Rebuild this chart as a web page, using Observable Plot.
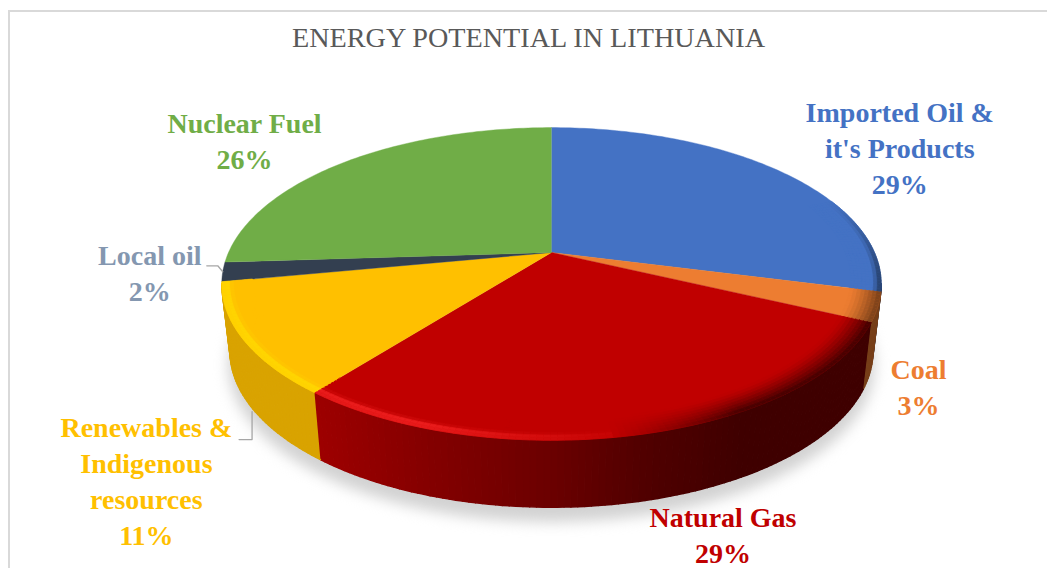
<!DOCTYPE html>
<html><head><meta charset="utf-8">
<script src="https://cdn.jsdelivr.net/npm/d3@7"></script>
<script src="https://cdn.jsdelivr.net/npm/@observablehq/plot@0.6"></script>
<style>
html,body{margin:0;padding:0;background:#fff;overflow:hidden}
#frame{position:absolute;left:8px;top:10px;width:1039px;height:558px;box-sizing:border-box;border:2px solid #d9d9d9;border-right:none;border-bottom:none}
#title{position:absolute;left:0;top:20px;width:1057px;text-align:center;font:28.2px "Liberation Serif",serif;color:#595959;line-height:36px}
#chart{position:absolute;left:0;top:0}
svg{display:block;background:transparent!important}
</style></head><body>
<div id="frame"></div>
<div id="title">ENERGY POTENTIAL IN LITHUANIA</div>
<div id="chart"></div>
<script>
const categories=["Imported Oil & it's Products","Coal","Natural Gas","Renewables & Indigenous resources","Local oil","Nuclear Fuel"];
const labelLines=["Imported Oil &\nit's Products","Coal","Natural Gas","Renewables &\nIndigenous\nresources","Local oil","Nuclear Fuel"];
const shares=[29,3,28.6,11.4,2,26];
const colors=["#4472c4","#ed7d31","#c00000","#ffc000","#333f50","#70ad47"];
const labelColors=["#4472c4","#ed7d31","#c00000","#ffc000","#8497b0","#70ad47"];
// label offsets in pixels from the outer rim point at each slice's mid angle
const labelDx=[121,41,79,-97,-73,-100];
const labelDy=[-24,78,100,140,0,-23];

const W=1047,H=568,cx=551,cy=252,R=323,V=150,k=0.201,depth=67,shrink=0.975;
const rad=d=>d*Math.PI/180;
// pie space: unit disc seen in perspective; z=0 top face, z=1 bottom face
function project(t,r=1,z=0){
  const u=r*Math.sin(t),v=r*Math.cos(t),w=1+k*v;
  return {x:u/w*(z?shrink:1),y:-v/w+z*depth/V};
}
const total=d3.sum(shares);
let acc=0;
const slices=shares.map((s,i)=>{const a0=acc/total*2*Math.PI;acc+=s;const a1=acc/total*2*Math.PI;
  return {i,a0,a1,mid:(a0+a1)/2,color:colors[i]};});

const step=rad(1);
function angles(a0,a1){const n=Math.max(1,Math.ceil((a1-a0)/step));return d3.range(n+1).map(j=>a0+(a1-a0)*j/n);}

// top faces
const faces=[];
for(const s of slices){
  faces.push({id:s.i,...project(0,0),color:s.color});
  for(const a of angles(s.a0,s.a1))faces.push({id:s.i,...project(a),color:s.color});
}
// wall strips, front-facing part only
const wallShade=d3.scaleLinear([-1.1,-.72,-.3,0,.3,.6,1.1],[.84,.82,.66,.56,.42,.33,.33]).clamp(true);
const wallFactor=(s,x)=>s.i==3?0.85:s.i==1?0.5:s.i==0?0.4:wallShade(x);
const wall=[];let qid=0;
function quad(arr,p,color){qid++;for(const q of p)arr.push({id:qid,x:q.x,y:q.y,color});}
function dark(c,f){const o=d3.rgb(c);return d3.rgb(o.r*f,o.g*f,o.b*f).formatHex();}
const aStart=rad(101.5),aEnd=rad(258.5);
for(const s of slices){
  const lo=Math.max(s.a0,aStart),hi=Math.min(s.a1,aEnd);
  if(hi<=lo)continue;
  const as=angles(lo,hi);
  for(let j=0;j<as.length-1;j++){
    const a=as[j],b=as[j+1];
    quad(wall,[project(a),project(b),project(b,1,1),project(a,1,1)],dark(s.color,wallFactor(s,project(a).x)));
  }
}
// bevel on the rim of the top face
const bevel=[];
const radii=d3.range(0,9).map(n=>.91+n*.01125);
const lightAmount=d3.scaleLinear([-1.1,-.4,.3],[.7,.8,0]).clamp(true);
const darkAmount=d3.scaleLinear([.2,.6],[0,1]).clamp(true);
for(const s of slices){
  if(s.i==4||s.i==5)continue;
  const as=angles(s.a0,s.a1);
  for(let j=0;j<as.length-1;j++){
    const a=as[j],b=as[j+1];
    if(s.i==0&&a<rad(68))continue;
    const x=project(a).x;
    radii.slice(0,-1).forEach((r0,n)=>{
      const r1=radii[n+1],rm=(r0+r1)/2;
      let c;
      if(s.i==0){
        const e=Math.min(1,(a-rad(68))/rad(30))*Math.max(0,(rm-.975)/.025);
        c=d3.interpolateRgb(s.color,"#22395f")(e);
      }else if(x<.2){
        const g=Math.exp(-((rm-.988)**2)/(2*.009**2));
        c=d3.interpolateRgb(s.color,s.i==3?"#ffe100":"#ff2a2a")(g*lightAmount(x));
      }else{
        const e=Math.pow((rm-.91)/.09,1.4)*darkAmount(x);
        c=d3.interpolateRgb(s.color,dark(s.color,wallFactor(s,x)))(e);
      }
      quad(bevel,[project(a,r0),project(b,r0),project(b,r1),project(a,r1)],c);
    });
  }
}
// soft shadow beneath
const shadow=angles(0,2*Math.PI).map(a=>project(a,1.005,1)).map(p=>({x:p.x,y:p.y+0.09}));
const colorOf=d=>d.color;
const rim=slices.map(s=>project(s.mid));

// leader lines: from the slice rim, offsets in pixels
const pxPt=(p,dx,dy)=>({x:p.x+dx/R,y:p.y+dy/V});
const localEnd=project(slices[4].mid);
const leaderLocal=[localEnd,pxPt(localEnd,-5,-6),pxPt(localEnd,-16,-6)];
const renewEnd=project(slices[3].mid,1,1);
const leaderRenew=[pxPt(renewEnd,1,5),pxPt(renewEnd,1,33),pxPt(renewEnd,-12,33)];

const marks=[
  Plot.line(shadow,{x:"x",y:"y",fill:"#d2d2d2",stroke:"none",curve:"linear",imageFilter:"blur(7px)"}),
  Plot.line(wall,{x:"x",y:"y",z:"id",fill:colorOf,stroke:colorOf,strokeWidth:1.5,curve:"linear"}),
  Plot.line(faces,{x:"x",y:"y",z:"id",fill:colorOf,stroke:colorOf,strokeWidth:.4,curve:"linear"}),
  Plot.line(bevel,{x:"x",y:"y",z:"id",fill:colorOf,stroke:colorOf,strokeWidth:.7,curve:"linear"}),
  Plot.line(leaderLocal,{x:"x",y:"y",stroke:"#a6a6a6",strokeWidth:1.3,curve:"linear"}),
  Plot.line(leaderRenew,{x:"x",y:"y",stroke:"#a6a6a6",strokeWidth:1.3,curve:"linear"})
];
slices.forEach((s,i)=>{
  const p=rim[i];
  marks.push(Plot.text([{x:p.x,y:p.y,name:categories[i],share:shares[i],line:labelLines[i]}],{
    x:"x",y:"y",text:d=>d.line+"\n"+d3.format(".0f")(d.share)+"%",dx:labelDx[i],dy:labelDy[i],
    fill:labelColors[i],fontSize:28,fontWeight:"bold",fontFamily:"'Liberation Serif',serif",
    lineHeight:1.286,textAnchor:"middle"
  }));
});
const chart=Plot.plot({
  width:W,height:H,margin:0,
  x:{type:"linear",domain:[-cx/R,(W-cx)/R],range:[0,W],axis:null},
  y:{type:"linear",domain:[-cy/V,(H-cy)/V],range:[0,H],axis:null},
  marks
});
document.getElementById("chart").append(chart);
</script>
</body></html>
